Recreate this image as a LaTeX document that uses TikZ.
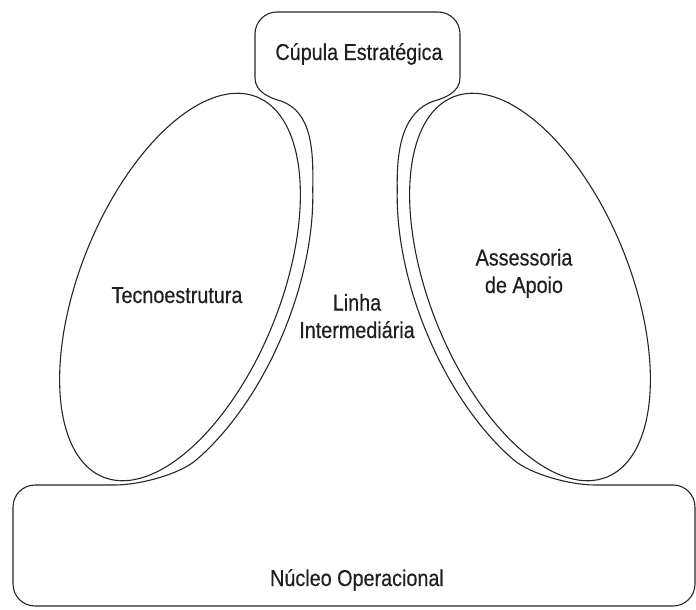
\documentclass[tikz,border=0pt]{standalone}
\usepackage{fontspec}
\setmainfont{Liberation Sans}[FakeStretch=0.86, FakeBold=0.4]
\begin{document}
\begin{tikzpicture}[x=1pt,y=-1pt,
  outl/.style={draw=black!85, line width=1.1pt, line join=round},
  lab/.style={font=\fontsize{23}{27.5}\selectfont, text=black!88, inner sep=0pt, anchor=base, align=center}]
\useasboundingbox (0,0) rectangle (696,610);
% left ellipse (Tecnoestrutura)
\draw[outl] plot[smooth cycle, domain=0:355, samples=72]
  ({180+76.79*cos(\x)+92.72*sin(\x)}, {287-190.08*cos(\x)+37.46*sin(\x)});
% right ellipse (Assessoria de Apoio)
\draw[outl] plot[smooth cycle, domain=0:355, samples=72]
  ({530-76.79*cos(\x)-92.72*sin(\x)}, {287-190.08*cos(\x)+37.46*sin(\x)});
% outline: Cupula + Linha Intermediaria + Nucleo Operacional
\draw[outl] (255,78) -- (255,34) .. controls (255,21.85) and (264.85,12) .. (277,12)
  -- (438,12) .. controls (450.15,12) and (460,21.85) .. (460,34)
  -- (460,78) .. controls (460,92) and (445,98) .. (434,101)
  .. controls (402,112) and (396.5,150) .. (397.25,189.5)
  -- plot[domain=50:135, samples=44] ({530-81.66*cos(\x)-104.77*sin(\x)}, {287-202.13*cos(\x)+42.33*sin(\x)})
  .. controls (530.4,474.2) and (570,485) .. (595,485)
  -- (673,485) .. controls (685.15,485) and (695,494.85) .. (695,507)
  -- (695,584) .. controls (695,596.15) and (685.15,606) .. (673,606)
  -- (35,606) .. controls (22.85,606) and (13,596.15) .. (13,584)
  -- (13,507) .. controls (13,494.85) and (22.85,485) .. (35,485)
  -- (115,485) .. controls (140,485) and (179.6,474.2) .. (196.3,459.9)
  -- plot[domain=135:50, samples=44] ({180+81.66*cos(\x)+104.77*sin(\x)}, {287-202.13*cos(\x)+42.33*sin(\x)})
  .. controls (313.5,150) and (312,112) .. (281,101)
  .. controls (270,98) and (255,92) .. (255,78) -- cycle;
% labels
\node[lab] (cupula) at (359,60) {Cúpula Estratégica};
\node[lab] (tecno) at (177,303) {Tecnoestrutura};
\node[lab] (linha) at (357,338) {Linha\\Intermediária};
\node[lab] (assess) at (524,293) {Assessoria\\de Apoio};
\node[lab] (nucleo) at (357,586) {Núcleo Operacional};
\end{tikzpicture}
\end{document}
